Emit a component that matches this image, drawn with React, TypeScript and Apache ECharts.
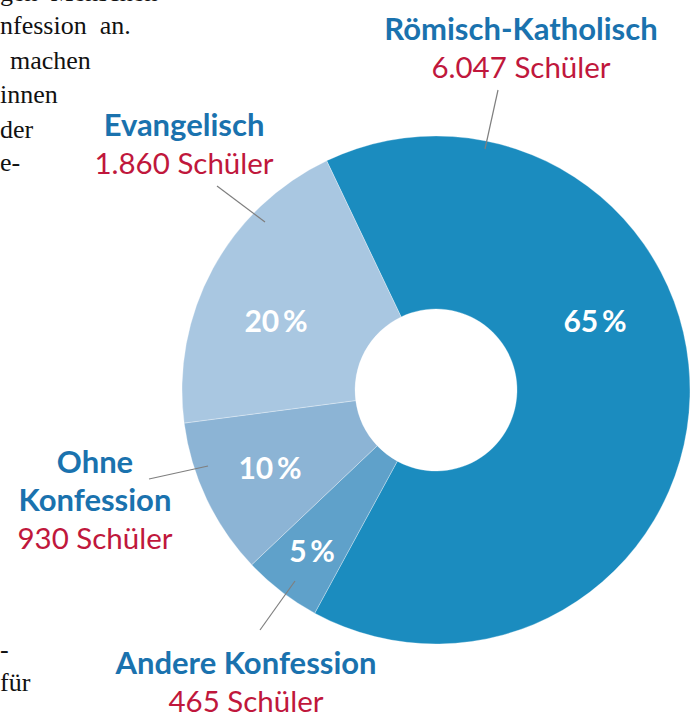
import React, { useEffect, useRef } from "react";
import * as echarts from "echarts";

// Data
const categories = ["Römisch-Katholisch", "Andere Konfession", "Ohne Konfession", "Evangelisch"];
const labelLines = [["Römisch-Katholisch"], ["Andere Konfession"], ["Ohne", "Konfession"], ["Evangelisch"]];
const students = [6047, 465, 930, 1860];
const sliceColors = ["#1b8cbf", "#5fa1ca", "#8cb4d5", "#a9c7e1"];
const unit = "Schüler";

// Body text fragments (cropped page text on the left)
const bodyText = ["gen  Menschen", "nfession  an.", "machen", "innen", "der", "e-"];
const bodyTextBottom = ["-", "für"];

const total = students.reduce((a, b) => a + b, 0);
const fmt = (n: number) => String(n).replace(/\B(?=(\d{3})+(?!\d))/g, ".");

// Layout (positions only)
const pctPos = [
  [595, 320],
  [312, 550],
  [270, 467],
  [276, 320],
];
const outerLabelPos = [
  { x: 521, y: 28 },
  { x: 246, y: 662 },
  { x: 95, y: 461 },
  { x: 184, y: 124 },
];
const leaderLines = [
  [498, 90, 485, 149],
  [260, 630, 295, 581],
  [149, 479, 208, 466],
  [217, 186, 265, 222],
];
const bodyBaselines = [5, 38, 73, 107, 142, 175];
const bodyX = [0, 0, 10, 0, 0, 0];
const bottomBaselines = [662, 695];

export default function App() {
  const ref = useRef<HTMLDivElement>(null);
  useEffect(() => {
    if (!ref.current) return;
    const chart = echarts.init(ref.current, null, { renderer: "svg" });
    const blue = "#1a72ae";
    const red = "#c0173c";
    const lineH = 37.5;

    const graphics: any[] = [];
    categories.forEach((_, i) => {
      const p = outerLabelPos[i];
      const names = labelLines[i];
      names.forEach((t, k) => {
        graphics.push({
          type: "text",
          x: p.x,
          y: p.y + k * lineH,
          style: {
            text: t,
            fill: blue,
            font: "bold 31px Lato",
            textAlign: "center",
            textVerticalAlign: "middle",
          },
        });
      });
      graphics.push({
        type: "text",
        x: p.x,
        y: p.y + names.length * lineH + (names.length > 1 ? 1 : 1),
        style: {
          text: fmt(students[i]) + " " + unit,
          fill: red,
          font: "29.5px Lato",
          textAlign: "center",
          textVerticalAlign: "middle",
        },
      });
      const l = leaderLines[i];
      graphics.push({
        type: "line",
        shape: { x1: l[0], y1: l[1], x2: l[2], y2: l[3] },
        style: { stroke: "#7f7f7f", lineWidth: 1.2 },
        z: 10,
      });
    });
    bodyText.forEach((t, i) => {
      graphics.push({
        type: "text",
        x: bodyX[i],
        y: bodyBaselines[i],
        style: {
          text: t,
          fill: "#111111",
          font: "26px 'Liberation Serif'",
          textAlign: "left",
          textVerticalAlign: "bottom",
        },
      });
    });
    bodyTextBottom.forEach((t, i) => {
      graphics.push({
        type: "text",
        x: 0,
        y: bottomBaselines[i],
        style: {
          text: t,
          fill: "#111111",
          font: "26px 'Liberation Serif'",
          textAlign: "left",
          textVerticalAlign: "bottom",
        },
      });
    });

    chart.setOption({
      animation: false,
      backgroundColor: "#ffffff",
      graphic: graphics,
      series: [
        {
          type: "pie",
          center: [436, 390],
          radius: [81, 254],
          startAngle: 115.5,
          clockwise: true,
          avoidLabelOverlap: false,
          itemStyle: { borderColor: "rgba(255,255,255,0.5)", borderWidth: 0.6 },
          label: {
            show: true,
            position: "inside",
            color: "#ffffff",
            fontFamily: "Lato",
            fontWeight: "bold",
            fontSize: 30,
            formatter: (p: any) => Math.round((students[p.dataIndex] / total) * 100) + "\u2009%",
          },
          labelLine: { show: false },
          labelLayout: (p: any) => ({
            x: pctPos[p.dataIndex][0],
            y: pctPos[p.dataIndex][1],
            align: "center",
            verticalAlign: "middle",
          }),
          emphasis: { disabled: true },
          data: categories.map((c, i) => ({
            name: c,
            value: students[i],
            itemStyle: { color: sliceColors[i] },
          })),
        },
      ],
    });
    return () => chart.dispose();
  }, []);
  return (
    <div
      ref={ref}
      style={{ position: "absolute", left: 0, top: 0, width: 699, height: 713 }}
    />
  );
}
